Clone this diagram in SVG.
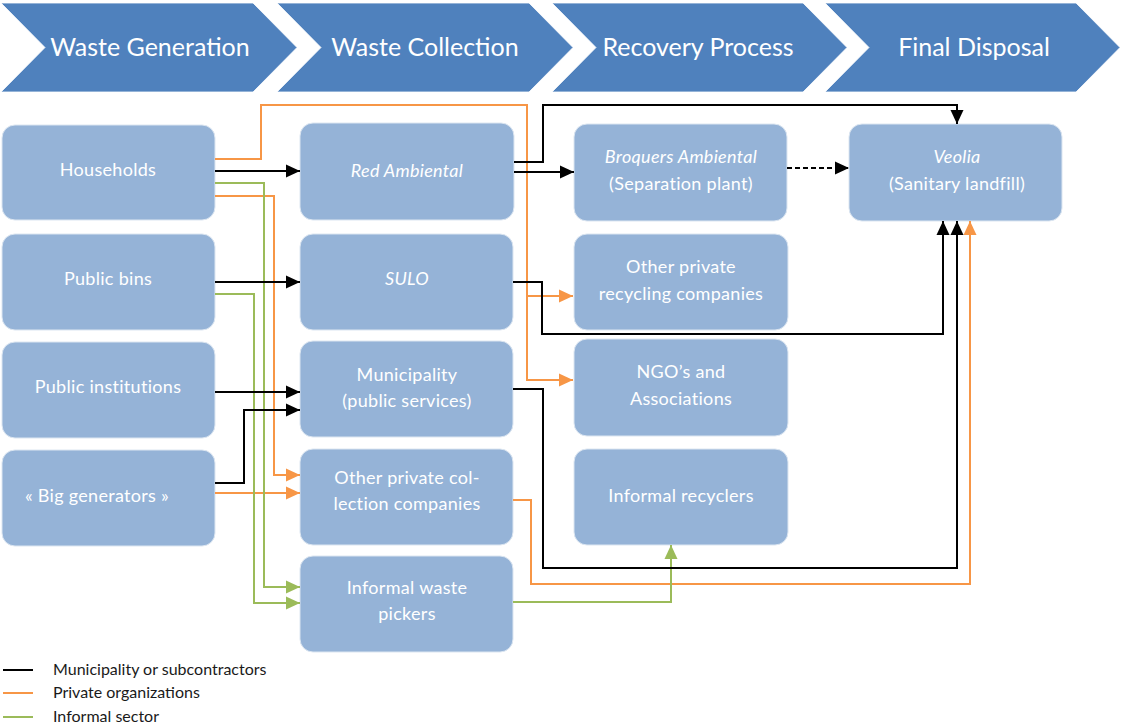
<svg xmlns="http://www.w3.org/2000/svg" width="1121" height="725" viewBox="0 0 1121 725">
<style>
.chev{fill:#4F81BD;stroke:#ffffff;stroke-width:0.8}
.ht{font-family:Lato,"Liberation Sans",sans-serif;font-size:25px;fill:#ffffff;text-anchor:middle}
.box{fill:#95B3D7;stroke:#dce6f1;stroke-width:1}
.bt{font-family:Lato,"Liberation Sans",sans-serif;font-size:18px;letter-spacing:0.3px;fill:#ffffff;text-anchor:middle}
.it{font-style:italic}
.k{fill:none;stroke:#000000;stroke-width:2}
.o{fill:none;stroke:#F79646;stroke-width:2}
.g{fill:none;stroke:#9BBB59;stroke-width:2}
.lt{font-family:Lato,"Liberation Sans",sans-serif;font-size:16px;fill:#1a1a1a}
</style>
<defs>
<marker id="ak" markerUnits="userSpaceOnUse" markerWidth="14" markerHeight="14" refX="14" refY="7" orient="auto"><path d="M0,0.5 L14,7 L0,13.5 z" fill="#000000"/></marker>
<marker id="ao" markerUnits="userSpaceOnUse" markerWidth="14" markerHeight="14" refX="14" refY="7" orient="auto"><path d="M0,0.5 L14,7 L0,13.5 z" fill="#F79646"/></marker>
<marker id="ag" markerUnits="userSpaceOnUse" markerWidth="14" markerHeight="14" refX="14" refY="7" orient="auto"><path d="M0,0.5 L14,7 L0,13.5 z" fill="#9BBB59"/></marker>
</defs>
<rect width="1121" height="725" fill="#ffffff"/>
<g id="header">
<g id="h1"><polygon class="chev" points="1,3 253,3 297,47.5 253,92 1,92 45,47.5"/><text class="ht" x="150" y="56">Waste Generation</text></g>
<g id="h2"><polygon class="chev" points="277,3 529,3 573,47.5 529,92 277,92 321,47.5"/><text class="ht" x="425" y="56">Waste Collection</text></g>
<g id="h3"><polygon class="chev" points="552,3 803,3 847,47.5 803,92 552,92 596,47.5"/><text class="ht" x="698" y="56">Recovery Process</text></g>
<g id="h4"><polygon class="chev" points="825,3 1076,3 1120,47.5 1076,92 825,92 869,47.5"/><text class="ht" x="974" y="56">Final Disposal</text></g>
</g>
<g id="households"><rect class="box" x="2" y="125" width="213" height="95" rx="13"/><text class="bt" x="108" y="176">Households</text></g>
<g id="public-bins"><rect class="box" x="2" y="234" width="213" height="96" rx="13"/><text class="bt" x="108" y="285">Public bins</text></g>
<g id="public-institutions"><rect class="box" x="2" y="342" width="213" height="96" rx="13"/><text class="bt" x="108" y="393">Public institutions</text></g>
<g id="big-generators"><rect class="box" x="2" y="450" width="213" height="96" rx="13"/><text class="bt" x="97" y="502">« Big generators »</text></g>
<g id="red-ambiental"><rect class="box" x="300" y="123" width="214" height="97" rx="13"/><text class="bt it" x="407" y="177">Red Ambiental</text></g>
<g id="sulo"><rect class="box" x="300" y="234" width="213" height="96" rx="13"/><text class="bt it" x="407" y="285">SULO</text></g>
<g id="municipality"><rect class="box" x="300" y="341" width="213" height="96" rx="13"/><text class="bt" x="407" y="381">Municipality</text><text class="bt" x="407" y="407">(public services)</text></g>
<g id="other-private-col"><rect class="box" x="300" y="449" width="213" height="96" rx="13"/><text class="bt" x="407" y="484">Other private col-</text><text class="bt" x="407" y="510">lection companies</text></g>
<g id="informal-waste-pickers"><rect class="box" x="300" y="556" width="213" height="96" rx="13"/><text class="bt" x="407" y="594">Informal waste</text><text class="bt" x="407" y="620">pickers</text></g>
<g id="broquers"><rect class="box" x="574" y="124" width="213" height="97" rx="13"/><text class="bt it" x="681" y="163">Broquers Ambiental</text><text class="bt" x="681" y="190">(Separation plant)</text></g>
<g id="other-private-rec"><rect class="box" x="574" y="234" width="214" height="96" rx="13"/><text class="bt" x="681" y="273">Other private</text><text class="bt" x="681" y="300">recycling companies</text></g>
<g id="ngo"><rect class="box" x="574" y="339" width="214" height="97" rx="13"/><text class="bt" x="681" y="378">NGO’s and</text><text class="bt" x="681" y="405">Associations</text></g>
<g id="informal-recyclers"><rect class="box" x="574" y="449" width="214" height="96" rx="13"/><text class="bt" x="681" y="502">Informal recyclers</text></g>
<g id="veolia"><rect class="box" x="849" y="124" width="213" height="97" rx="13"/><text class="bt it" x="957" y="163">Veolia</text><text class="bt" x="957" y="190">(Sanitary landfill)</text></g>
<g id="connectors">
<path class="o" d="M215,159 H261 V105 H527 V380 H573" marker-end="url(#ao)"/>
<path class="o" d="M527,296 H573" marker-end="url(#ao)"/>
<path class="o" d="M215,196 H274 V475 H300" marker-end="url(#ao)"/>
<path class="o" d="M215,493 H300" marker-end="url(#ao)"/>
<path class="o" d="M513,500 H531 V584 H970 V221" marker-end="url(#ao)"/>
<path class="g" d="M215,183 H264 V587 H300" marker-end="url(#ag)"/>
<path class="g" d="M215,294 H254 V603 H300" marker-end="url(#ag)"/>
<path class="g" d="M513,602 H671 V545" marker-end="url(#ag)"/>
<path class="k" d="M215,171 H300" marker-end="url(#ak)"/>
<path class="k" d="M215,282 H300" marker-end="url(#ak)"/>
<path class="k" d="M215,392 H300" marker-end="url(#ak)"/>
<path class="k" d="M215,483 H244 V410 H300" marker-end="url(#ak)"/>
<path class="k" d="M514,172 H574" marker-end="url(#ak)"/>
<path class="k" d="M514,162 H543 V105 H957 V124" marker-end="url(#ak)"/>
<path class="k" d="M787,168 H849" stroke-dasharray="5,3" marker-end="url(#ak)"/>
<path class="k" d="M513,282 H542 V334 H943 V221" marker-end="url(#ak)"/>
<path class="k" d="M513,389 H543 V568 H957 V221" marker-end="url(#ak)"/>
</g>
<g id="legend">
<line x1="3" y1="670" x2="33" y2="670" stroke="#000000" stroke-width="2"/>
<line x1="3" y1="693" x2="33" y2="693" stroke="#F79646" stroke-width="2"/>
<line x1="3" y1="717" x2="33" y2="717" stroke="#9BBB59" stroke-width="2"/>
<text class="lt" x="53" y="675">Municipality or subcontractors</text>
<text class="lt" x="53" y="698">Private organizations</text>
<text class="lt" x="53" y="722">Informal sector</text>
</g>
</svg>
